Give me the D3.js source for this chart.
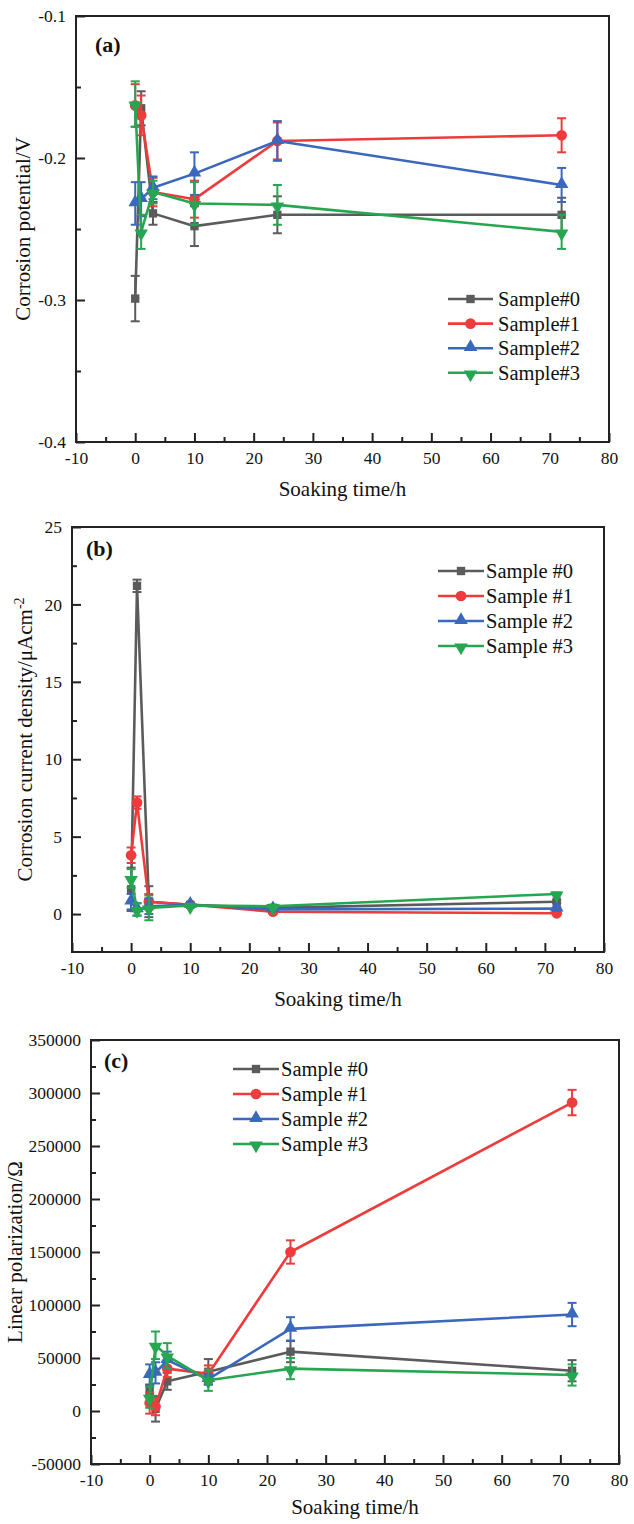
<!DOCTYPE html>
<html>
<head>
<meta charset="utf-8">
<script src="https://cdn.jsdelivr.net/npm/d3@7"></script>
<style>
  body { margin: 0; background: #fff; }
  svg, svg text { font-family: "Liberation Serif", "DejaVu Serif", serif; }
  svg text { fill: #111; }
</style>
</head>
<body>
<svg id="chart" width="634" height="1524"></svg>
<script>
// soaking times shared by all three panels
const times = [0, 1, 3, 10, 24, 72];
const sampleColors = ['#5b5b5b', '#ee3b3b', '#3a68bd', '#27a652'];

// (a) corrosion potential / V
const potential0 = [-0.299, -0.165, -0.239, -0.248, -0.240, -0.240];
const potential1 = [-0.163, -0.170, -0.224, -0.229, -0.188, -0.184];
const potential2 = [-0.232, -0.229, -0.221, -0.211, -0.188, -0.219];
const potential3 = [-0.162, -0.252, -0.224, -0.232, -0.233, -0.252];
const potentialErr0 = [0.016, 0.012, 0.008, 0.014, 0.013, 0.012];
const potentialErr1 = [0.015, 0.014, 0.010, 0.013, 0.013, 0.012];
const potentialErr2 = [0.015, 0.012, 0.008, 0.015, 0.014, 0.012];
const potentialErr3 = [0.016, 0.012, 0.008, 0.015, 0.014, 0.012];

// (b) corrosion current density / uA cm-2
const current0 = [1.6, 21.2, 0.8, 0.6, 0.4, 0.8];
const current1 = [3.8, 7.2, 0.8, 0.6, 0.15, 0.05];
const current2 = [0.8, 0.3, 0.5, 0.6, 0.3, 0.35];
const current3 = [2.3, 0.3, 0.4, 0.55, 0.5, 1.3];
const currentErr0 = [1.4, 0.4, 1.0, 0.1, 0.1, 0.1];
const currentErr1 = [0.5, 0.4, 0.5, 0.1, 0.1, 0.1];
const currentErr2 = [0.5, 0.4, 0.5, 0.1, 0.1, 0.1];
const currentErr3 = [0.6, 0.4, 0.8, 0.1, 0.1, 0.1];

// (c) linear polarization / Ohm
const polar0 = [20000, 2000, 28000, 37000, 56000, 38000];
const polar1 = [7500, 4000, 40000, 35000, 150000, 291000];
const polar2 = [34000, 36000, 48000, 30000, 77500, 91000];
const polar3 = [13000, 62000, 52000, 29000, 40000, 34000];
const polarErr0 = [5000, 12000, 8000, 12000, 10000, 10000];
const polarErr1 = [10000, 8000, 8000, 8000, 11000, 12000];
const polarErr2 = [10000, 10000, 8000, 5000, 11000, 11000];
const polarErr3 = [10000, 13000, 12000, 10000, 10000, 10000];

const xTicks = [-10, 0, 10, 20, 30, 40, 50, 60, 70, 80];
const potentialTicks = [-0.4, -0.3, -0.2, -0.1];
const currentTicks = [0, 5, 10, 15, 20, 25];
const polarTicks = [-50000, 0, 50000, 100000, 150000, 200000, 250000, 300000, 350000];

const svg = d3.select('#chart');

// plain hyphen minus like the original figure
const hyphen = f => (d => f(d).replace('−', '-'));

const symbols = [
  d3.symbol().type(d3.symbolSquare).size(70),
  d3.symbol().type(d3.symbolCircle).size(90),
  d3.symbol().type(d3.symbolTriangle).size(80),
  d3.symbol().type(d3.symbolTriangle).size(80)
];
const symbolRotate = [0, 0, 0, 180];
const symbolShift = [0, 0, -1, 1.5];

function drawPanel(p) {
  const x = d3.scaleLinear().domain([-10, 80]).range([p.left, p.right]);
  const y = d3.scaleLinear().domain(p.yDomain).range([p.bottom, p.top]);
  const g = svg.append('g');

  // frame
  g.append('rect')
    .attr('x', p.left).attr('y', p.top)
    .attr('width', p.right - p.left).attr('height', p.bottom - p.top)
    .attr('fill', 'none').attr('stroke', '#222').attr('stroke-width', 2);

  // x axis, ticks pointing inward
  const xAxis = d3.axisBottom(x).tickValues(xTicks).tickSize(-9).tickPadding(10)
    .tickFormat(hyphen(d3.format('d')));
  const gx = g.append('g').attr('transform', `translate(0,${p.bottom})`).call(xAxis);
  const xMinor = d3.axisBottom(x).tickValues(d3.range(-5, 80, 10)).tickSize(-5).tickFormat('');
  g.append('g').attr('transform', `translate(0,${p.bottom})`).call(xMinor);

  const yAxis = d3.axisLeft(y).tickValues(p.yTicks).tickSize(-9).tickPadding(10)
    .tickFormat(hyphen(p.yFormat));
  const gy = g.append('g').attr('transform', `translate(${p.left},0)`).call(yAxis);
  const yMinor = d3.axisLeft(y).tickValues(p.yMinor).tickSize(-5).tickFormat('');
  g.append('g').attr('transform', `translate(${p.left},0)`).call(yMinor);

  g.selectAll('.domain').remove();
  g.selectAll('.tick line').attr('stroke', '#222').attr('stroke-width', 2);
  [gx, gy].forEach(a => {
    a.attr('font-family', null).attr('font-size', null);
    a.selectAll('.tick text').attr('font-size', 17.5).attr('fill', '#111');
  });

  // series
  p.series.forEach((vals, si) => {
    const errs = p.errors[si];
    const color = sampleColors[si];
    const pts = times.map((t, i) => ({t: t, v: vals[i], e: errs[i]}));
    const sg = g.append('g');

    const line = d3.line().x(d => x(d.t)).y(d => y(d.v));
    sg.append('path').attr('d', line(pts))
      .attr('fill', 'none').attr('stroke', color).attr('stroke-width', 2.6)
      .attr('stroke-linejoin', 'round');

    const eb = sg.selectAll('.eb').data(pts).enter().append('g');
    eb.append('line')
      .attr('x1', d => x(d.t)).attr('x2', d => x(d.t))
      .attr('y1', d => y(d.v - d.e)).attr('y2', d => y(d.v + d.e))
      .attr('stroke', color).attr('stroke-width', 2);
    [-1, 1].forEach(s => {
      eb.append('line')
        .attr('x1', d => x(d.t) - 4.5).attr('x2', d => x(d.t) + 4.5)
        .attr('y1', d => y(d.v + s * d.e)).attr('y2', d => y(d.v + s * d.e))
        .attr('stroke', color).attr('stroke-width', 2);
    });

    sg.selectAll('.mk').data(pts).enter().append('path')
      .attr('d', symbols[si])
      .attr('transform', d => `translate(${x(d.t)},${y(d.v) + symbolShift[si]}) rotate(${symbolRotate[si]})`)
      .attr('fill', color);
  });

  // legend
  const lg = g.append('g');
  p.legendNames.forEach((name, i) => {
    const ly = p.legendY + i * p.legendStep;
    lg.append('line')
      .attr('x1', p.legendX).attr('x2', p.legendX + p.legendLen)
      .attr('y1', ly).attr('y2', ly)
      .attr('stroke', sampleColors[i]).attr('stroke-width', 2.6);
    lg.append('path').attr('d', symbols[i])
      .attr('transform', `translate(${p.legendX + p.legendLen / 2},${ly + symbolShift[i]}) rotate(${symbolRotate[i]})`)
      .attr('fill', sampleColors[i]);
    lg.append('text')
      .attr('x', p.legendX + p.legendLen + p.legendGap).attr('y', ly)
      .attr('dy', '0.35em').attr('font-size', 20.5)
      .text(name);
  });

  // panel label
  g.append('text').attr('x', p.labelX).attr('y', p.labelY)
    .attr('font-size', 22).attr('font-weight', 'bold').text(p.label);

  // x title
  g.append('text').attr('x', (p.left + p.right) / 2).attr('y', p.bottom + p.xTitleGap)
    .attr('text-anchor', 'middle').attr('font-size', 21).text('Soaking time/h');

  // y title
  const yt = g.append('text')
    .attr('transform', `translate(${p.yTitleX},${(p.top + p.bottom) / 2}) rotate(-90)`)
    .attr('text-anchor', 'middle').attr('font-size', 21);
  p.yTitle(yt);
}

const legendHash = ['Sample#0', 'Sample#1', 'Sample#2', 'Sample#3'];
const legendSpace = ['Sample #0', 'Sample #1', 'Sample #2', 'Sample #3'];

drawPanel({
  left: 76, right: 609, top: 16, bottom: 442,
  yDomain: [-0.4, -0.1], yTicks: potentialTicks, yMinor: [-0.35, -0.25, -0.15],
  yFormat: d3.format('.1f'),
  series: [potential0, potential1, potential2, potential3],
  errors: [potentialErr0, potentialErr1, potentialErr2, potentialErr3],
  legendNames: legendHash, legendX: 448, legendY: 299, legendStep: 24.6, legendLen: 45, legendGap: 5,
  label: '(a)', labelX: 95, labelY: 52,
  xTitleGap: 54, yTitleX: 30,
  yTitle: t => t.text('Corrosion potential/V')
});

drawPanel({
  left: 72, right: 604, top: 527, bottom: 952,
  yDomain: [-2.45, 25], yTicks: currentTicks, yMinor: [2.5, 7.5, 12.5, 17.5, 22.5],
  yFormat: d3.format('d'),
  series: [current0, current1, current2, current3],
  errors: [currentErr0, currentErr1, currentErr2, currentErr3],
  legendNames: legendSpace, legendX: 438, legendY: 571, legendStep: 25, legendLen: 46, legendGap: 2,
  label: '(b)', labelX: 86, labelY: 556,
  xTitleGap: 54, yTitleX: 32,
  yTitle: t => {
    t.append('tspan').text('Corrosion current density/μAcm');
    t.append('tspan').attr('font-size', 14).attr('dy', -8).text('-2');
  }
});

drawPanel({
  left: 91, right: 619, top: 1040, bottom: 1464,
  yDomain: [-50000, 350000], yTicks: polarTicks,
  yMinor: d3.range(-25000, 350000, 50000),
  yFormat: d3.format('d'),
  series: [polar0, polar1, polar2, polar3],
  errors: [polarErr0, polarErr1, polarErr2, polarErr3],
  legendNames: legendSpace, legendX: 233, legendY: 1069, legendStep: 25, legendLen: 46, legendGap: 2,
  label: '(c)', labelX: 104, labelY: 1068,
  xTitleGap: 50, yTitleX: 22,
  yTitle: t => t.text('Linear polarization/Ω')
});
</script>
</body>
</html>
